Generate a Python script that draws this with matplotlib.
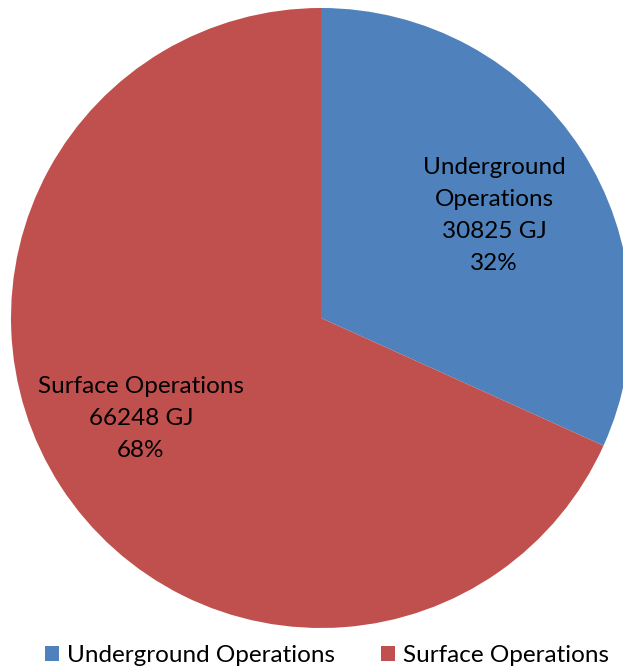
import numpy as np
import matplotlib.pyplot as plt
from matplotlib.patches import Patch

plt.rcParams['font.family'] = ['Lato', 'DejaVu Sans']

# data
categories = ['Underground Operations', 'Surface Operations']
energy_gj = [30825, 66248]
colors = ['#4F81BD', '#C0504D']

fig = plt.figure(figsize=(6.23, 6.67), dpi=100)
ax = fig.add_axes([0, 0, 1, 1])

names = iter(['Underground\nOperations', 'Surface Operations'])
values = iter(energy_gj)


def make_label(pct):
    return '%s\n%d GJ\n%.0f%%' % (next(names), next(values), pct)


wedges, texts, autotexts = ax.pie(energy_gj, colors=colors, startangle=90, counterclock=False,
                                  autopct=make_label, pctdistance=0.66,
                                  textprops=dict(fontsize=17.5, color='black', linespacing=1.65))

# nudge label blocks to where the original chart puts them
label_pos = [(0.558, 0.332), (-0.581, -0.323)]
for t, pos in zip(autotexts, label_pos):
    t.set_position(pos)

# place pie so centre and radius match layout (centre 321,318 px, radius 310 px)
W, H = 623.0, 667.0
cx, cy, r = 321.0, 318.0, 310.0
ax.set_xlim(-cx / r, (W - cx) / r)
ax.set_ylim(-(H - cy) / r, cy / r)
ax.set_aspect('auto')
ax.axis('off')

handles = [Patch(facecolor=c, edgecolor='none') for c in colors]
fig.legend(handles, categories, loc='center', bbox_to_anchor=(0.525, 1 - 656 / H),
           ncol=2, frameon=False, fontsize=17.5, handlelength=0.58, handleheight=0.58,
           handletextpad=0.33, columnspacing=1.9, borderpad=0, borderaxespad=0)

plt.savefig('out.png', dpi=100)
